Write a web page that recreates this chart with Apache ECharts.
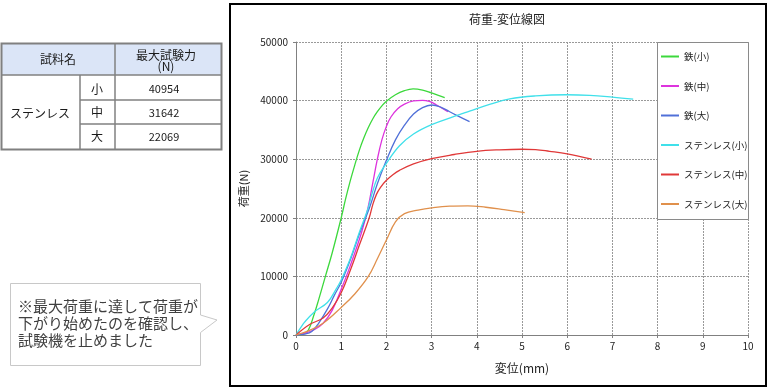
<!DOCTYPE html>
<html><head><meta charset="utf-8">
<script src="https://cdn.jsdelivr.net/npm/echarts/dist/echarts.min.js"></script>
<style>html,body{margin:0;padding:0;background:#fff;}#c{width:770px;height:390px;}</style>
</head><body><div id="c"></div>
<script>
// ---- data ----
const seriesNames = ['鉄(小)', '鉄(中)', '鉄(大)', 'ステンレス(小)', 'ステンレス(中)', 'ステンレス(大)'];
const ironSmall = [[0,0],[0.15,150],[0.27,800],[0.4,3500],[0.5,6000],[0.65,10000],[0.8,14000],[1.0,20000],[1.1,23300],[1.2,26300],[1.3,29000],[1.4,31500],[1.5,33600],[1.6,35400],[1.7,36900],[1.8,38100],[1.9,39100],[2.0,39900],[2.2,41000],[2.4,41700],[2.59,42000],[2.8,41800],[3.0,41300],[3.15,40900],[3.29,40500]];
const ironMedium = [[0,0],[0.2,300],[0.4,900],[0.6,2000],[0.8,4200],[1.0,7800],[1.2,11800],[1.45,17500],[1.59,21600],[1.7,26000],[1.8,30000],[1.9,33300],[2.0,35600],[2.1,37200],[2.25,38600],[2.4,39400],[2.6,39950],[2.8,40050],[2.95,39850],[3.1,39300],[3.36,38100]];
const ironLarge = [[0,0],[0.2,150],[0.35,600],[0.5,2000],[0.7,4500],[0.85,6800],[1.0,9000],[1.2,12800],[1.4,17200],[1.63,21800],[1.8,25800],[2.0,29800],[2.2,33300],[2.4,35800],[2.6,37700],[2.8,38800],[3.0,39250],[3.2,38900],[3.4,38100],[3.6,37300],[3.84,36400]];
const stainSmall = [[0,0],[0.1,1200],[0.19,2200],[0.4,3900],[0.7,5600],[0.9,8000],[1.0,9400],[1.2,13000],[1.4,17500],[1.59,21500],[1.67,23800],[1.8,26800],[2.0,29300],[2.29,32300],[2.6,34300],[3.0,35900],[3.5,37300],[3.84,38200],[4.3,39400],[4.73,40300],[5.3,40800],[5.98,41000],[6.5,40900],[7.0,40600],[7.46,40250]];
const stainMedium = [[0,0],[0.3,1800],[0.6,2900],[0.8,4600],[1.0,7200],[1.2,11000],[1.4,15300],[1.62,20000],[1.7,22300],[1.78,24000],[1.87,25200],[2.0,26400],[2.15,27400],[2.29,28100],[2.6,29200],[3.0,30100],[3.5,30800],[4.0,31350],[4.5,31600],[5.0,31700],[5.3,31650],[5.61,31350],[6.0,30900],[6.54,30000]];
const stainLarge = [[0,0],[0.3,800],[0.6,2000],[1.0,4700],[1.3,7000],[1.6,10000],[1.8,13000],[2.0,16200],[2.2,19300],[2.4,20700],[2.7,21300],[3.0,21700],[3.4,22000],[3.8,22050],[4.2,21800],[4.6,21400],[5.06,20900]];
const seriesData = [ironSmall, ironMedium, ironLarge, stainSmall, stainMedium, stainLarge];
const seriesColors = ['#3cd83c', '#dd33dd', '#5070d8', '#40e0ea', '#e03838', '#e0904c'];

// table
const tableMaterial = 'ステンレス';
const tableSizes = ['小', '中', '大'];
const tableMaxForce = [40954, 31642, 22069];
const noteText = '※最大荷重に達して荷重が\n下がり始めたのを確認し、\n試験機を止めました';

const FONT = '"Noto Sans CJK JP", "Noto Sans", sans-serif';

const chart = echarts.init(document.getElementById('c'));

const graphics = [];
// chart frame
graphics.push({type:'rect', shape:{x:230, y:4, width:536, height:382}, style:{fill:'none', stroke:'#000', lineWidth:2}, z:0, silent:true});
// legend box
graphics.push({type:'rect', shape:{x:657.5, y:42.5, width:91, height:177}, style:{fill:'#fff', stroke:'#8a8a8a', lineWidth:1}, z:3, silent:true});
// table
graphics.push({type:'rect', shape:{x:1, y:43, width:221, height:32}, style:{fill:'#dbe5f7'}, z:1});
const lineSt = {stroke:'#808080', lineWidth:1.5};
graphics.push({type:'line', shape:{x1:1, y1:75, x2:222, y2:75}, style:lineSt, z:2});
graphics.push({type:'line', shape:{x1:80, y1:100, x2:222, y2:100}, style:lineSt, z:2});
graphics.push({type:'line', shape:{x1:80, y1:124, x2:222, y2:124}, style:lineSt, z:2});
graphics.push({type:'line', shape:{x1:115, y1:43, x2:115, y2:150}, style:lineSt, z:2});
graphics.push({type:'line', shape:{x1:80, y1:75, x2:80, y2:150}, style:lineSt, z:2});
graphics.push({type:'rect', shape:{x:1.5, y:43.5, width:220, height:106}, style:{fill:'none', stroke:'#808080', lineWidth:2}, z:2});
const tTxt = (t, x, y, size) => ({type:'text', x:x, y:y, z:3, style:{text:t, fill:'#1a1a1a', font:size+'px '+FONT, textAlign:'center', textVerticalAlign:'middle'}});
graphics.push(tTxt('試料名', 58, 59, 12));
graphics.push(tTxt('最大試験力', 166, 55, 12));
graphics.push(tTxt('(N)', 166, 66.5, 12));
graphics.push(tTxt(tableMaterial, 40, 113, 12));
const rowY = [89, 112.5, 136.5];
tableSizes.forEach((s, i) => {
  graphics.push(tTxt(s, 97, rowY[i], 12));
  graphics.push(tTxt(String(tableMaxForce[i]), 164, rowY[i], 11));
});
// callout
graphics.push({type:'polygon', shape:{points:[[10.5,283.5],[200.5,283.5],[200.5,315],[217,320],[200.5,332.5],[200.5,365.5],[10.5,365.5]]}, style:{fill:'#fff', stroke:'#c8c8c8', lineWidth:1}, z:1});
graphics.push({type:'text', x:18, y:298, z:2, style:{text:noteText, fill:'#404040', font:'15px '+FONT, lineHeight:17, textVerticalAlign:'top'}});

const option = {
  animation: false,
  backgroundColor: '#fff',
  textStyle: {fontFamily: FONT},
  title: {text:'荷重-変位線図', left:507, top:13, textAlign:'center', padding:0,
    textStyle:{fontSize:12, fontWeight:'normal', color:'#222', fontFamily:FONT}},
  grid: {left:296, top:42, right:22, bottom:55},
  legend: {
    orient:'vertical', left:661, top:50.5, padding:0, icon:'rect', itemWidth:18, itemHeight:2, itemGap:17.5,
    textStyle:{fontSize:9.5, color:'#222', lineHeight:12, fontFamily:FONT}, z:5,
    data: seriesNames
  },
  xAxis: {
    type:'value', min:0, max:10, interval:1,
    name:'変位(mm)', nameLocation:'middle', nameGap:27,
    nameTextStyle:{fontSize:12, color:'#222', fontFamily:FONT},
    axisLine:{lineStyle:{color:'#808080', width:1}},
    axisTick:{show:true, length:3, lineStyle:{color:'#808080'}},
    axisLabel:{fontSize:10, color:'#222', margin:6},
    splitLine:{show:true, lineStyle:{color:'#999', type:[2,1], width:1}}
  },
  yAxis: {
    type:'value', min:0, max:50000, interval:10000,
    name:'荷重(N)', nameLocation:'middle', nameGap:44, nameRotate:90,
    nameTextStyle:{fontSize:11, color:'#222', fontFamily:FONT},
    axisLine:{show:true, lineStyle:{color:'#808080', width:1}},
    axisTick:{show:true, length:3, lineStyle:{color:'#808080'}},
    axisLabel:{fontSize:10, color:'#222', margin:8, formatter: v => String(v)},
    splitLine:{show:true, lineStyle:{color:'#999', type:[2,1], width:1}}
  },
  series: seriesNames.map((n, i) => ({
    name:n, type:'line', data:seriesData[i], smooth:0.4, showSymbol:false, symbol:'none',
    lineStyle:{color:seriesColors[i], width:1.3}, itemStyle:{color:seriesColors[i]}, z:2
  })),
  graphic: graphics
};
chart.setOption(option);
</script></body></html>
